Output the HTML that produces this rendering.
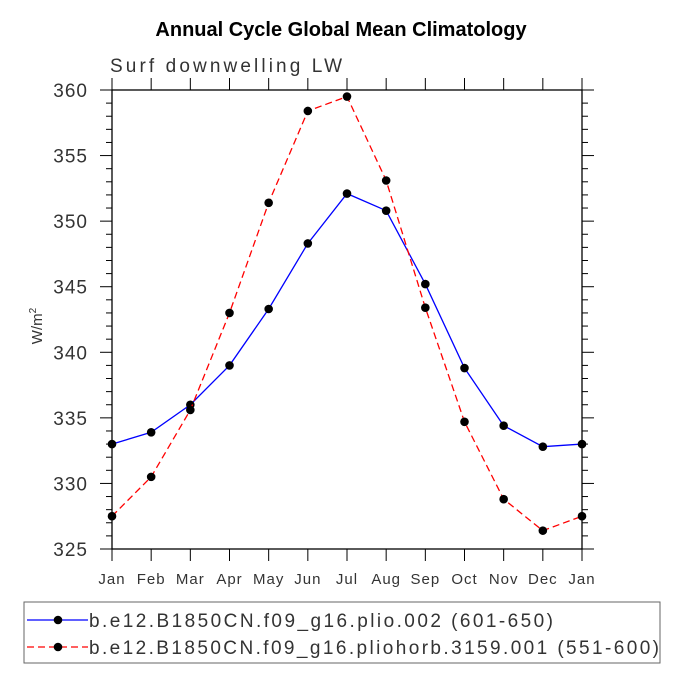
<!DOCTYPE html>
<html><head><meta charset="utf-8"><style>
body{margin:0;background:#fff}
svg text{font-family:"Liberation Sans",sans-serif}
</style></head><body>
<svg width="683" height="682">
<text x="341" y="36" text-anchor="middle" font-size="20" font-weight="bold">Annual Cycle Global Mean Climatology</text>
<text x="110" y="72" font-size="19" fill="#333" textLength="232" lengthAdjust="spacing">Surf downwelling LW</text>
<text transform="translate(42,326) rotate(-90)" text-anchor="middle" font-size="15" fill="#333">W/m<tspan dy="-6" font-size="10">2</tspan></text>
<g id="axes"></g><g id="series"></g>
<rect x="24" y="602" width="636" height="61" fill="none" stroke="#666"/>
<g id="legend"></g>
</svg>
<script>
const months=["Jan","Feb","Mar","Apr","May","Jun","Jul","Aug","Sep","Oct","Nov","Dec","Jan"];
const yTicks=[325,330,335,340,345,350,355,360];
const blueVals=[333.0,333.9,336.0,339.0,343.3,348.3,352.1,350.8,345.2,338.8,334.4,332.8,333.0];
const redVals=[327.5,330.5,335.6,343.0,351.4,358.4,359.5,353.1,343.4,334.7,328.8,326.4,327.5];
const seriesNames=["b.e12.B1850CN.f09_g16.plio.002 (601-650)","b.e12.B1850CN.f09_g16.pliohorb.3159.001 (551-600)"];
const legendLens=[464,570];
const X0=112,X1=582,Y0=549,Y1=90,ymin=325,ymax=360;
const xs=i=>X0+(X1-X0)*i/12, ys=v=>Y0-(v-ymin)/(ymax-ymin)*(Y0-Y1);
const NS="http://www.w3.org/2000/svg";
function mk(t,a,p){const e=document.createElementNS(NS,t);for(const k in a)e.setAttribute(k,a[k]);p.appendChild(e);return e;}
const ax=document.getElementById('axes');
let fr=mk('rect',{x:X0,y:Y1,width:X1-X0,height:Y0-Y1,fill:'none',stroke:'#000','stroke-width':1.3},ax);


for(let v=ymin;v<=ymax;v++){const y=ys(v),maj=(v%5==0),L=maj?12:6;
mk('line',{x1:X0-L,x2:X0,y1:y,y2:y,stroke:'#000'},ax);mk('line',{x1:X1,x2:X1+L,y1:y,y2:y,stroke:'#000'},ax);}
yTicks.forEach(v=>{const t=mk('text',{x:88,y:ys(v)+7,'text-anchor':'end','font-size':19,fill:'#333','letter-spacing':1},ax);t.textContent=v;

});
months.forEach((m,i)=>{const x=xs(i);mk('line',{x1:x,x2:x,y1:Y0,y2:Y0+12,stroke:'#000'},ax);mk('line',{x1:x,x2:x,y1:Y1-12,y2:Y1,stroke:'#000'},ax);
const t=mk('text',{x:x,y:584,'text-anchor':'middle','font-size':15,fill:'#333','letter-spacing':1},ax);t.textContent=m;

});
const sg=document.getElementById('series');
function draw(vals,col,dash,name){const g=mk('g',{},sg);


mk('polyline',{points:vals.map((v,i)=>xs(i)+','+ys(v)).join(' '),fill:'none',stroke:col,'stroke-width':1.3,'stroke-dasharray':dash},g);
vals.forEach((v,i)=>{const c=mk('circle',{cx:xs(i),cy:ys(v),r:4.3,fill:'#000'},g);

});}
draw(blueVals,'#00f','none','series-plio');
draw(redVals,'#f00','7,4','series-pliohorb');
const lg=document.getElementById('legend');
[['#00f','none',620],['#f00','7,4',647]].forEach((s,i)=>{const g=mk('g',{},lg);


mk('line',{x1:27,x2:88,y1:s[2],y2:s[2],stroke:s[0],'stroke-width':1.3,'stroke-dasharray':s[1]},g);
mk('circle',{cx:58,cy:s[2],r:4.3,fill:'#000'},g);
const t=mk('text',{x:89,y:s[2]+7,'font-size':19,fill:'#333',textLength:legendLens[i],lengthAdjust:'spacing'},g);t.textContent=seriesNames[i];});
</script>
</body></html>
